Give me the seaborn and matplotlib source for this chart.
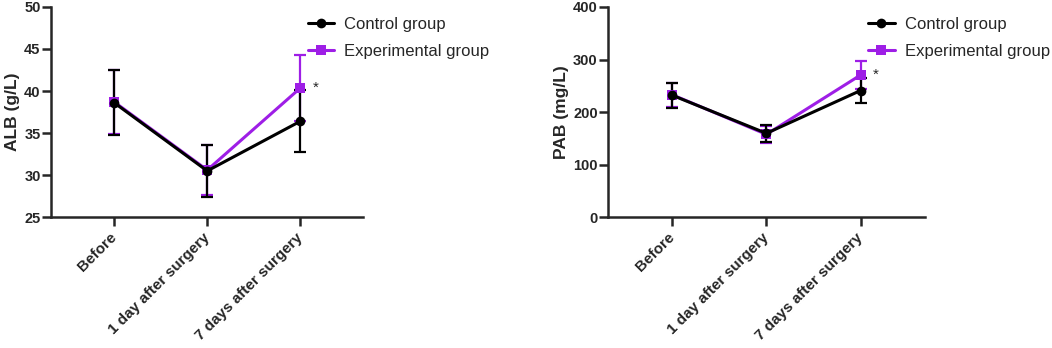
import matplotlib
matplotlib.use("Agg")
import matplotlib.pyplot as plt
import numpy as np
import pandas as pd
import seaborn as sns
from matplotlib.lines import Line2D

sns.set_style("ticks")
plt.rcParams["font.family"] = ["Liberation Sans", "DejaVu Sans"]

timepoints = ["Before", "1 day after surgery", "7 days after surgery"]
groups = ["Control group", "Experimental group"]
colors = {"Control group": "#000000", "Experimental group": "#9e1ee6"}
markers = {"Control group": "o", "Experimental group": "s"}

alb_ctrl = [38.6, 30.5, 36.4]
alb_ctrl_sd = [3.85, 3.05, 3.7]
alb_exp = [38.7, 30.6, 40.35]
alb_exp_sd = [3.8, 3.0, 3.95]

pab_ctrl = [232.0, 159.5, 241.0]
pab_ctrl_sd = [23.4, 16.5, 24.6]
pab_exp = [233.0, 157.5, 270.5]
pab_exp_sd = [23.0, 16.0, 26.5]


def mk_df(ctrl, ctrl_sd, exp, exp_sd):
    dic = {"time": [], "value": [], "sd": [], "group": []}
    for g, vals, sds in [("Control group", ctrl, ctrl_sd), ("Experimental group", exp, exp_sd)]:
        for t, v, s in zip(timepoints, vals, sds):
            dic["time"].append(t)
            dic["value"].append(v)
            dic["sd"].append(s)
            dic["group"].append(g)
    return pd.DataFrame(data=dic)


def draw_panel(ax, df, ylabel, ylim, yticks):
    # experimental first, control on top
    for g in ["Experimental group", "Control group"]:
        sub = df[df["group"] == g]
        xs = np.arange(len(sub))
        ax.errorbar(xs, sub["value"], yerr=sub["sd"], fmt="none",
                    ecolor=colors[g], elinewidth=1.6, capsize=4, capthick=1.6, zorder=2)
        sns.lineplot(data=sub, x="time", y="value", ax=ax, color=colors[g],
                     marker=markers[g], markersize=7, markeredgewidth=0,
                     linewidth=2.2, sort=False, zorder=3)
    ax.set_xlim(-0.68, 2.68)
    ax.set_ylim(*ylim)
    ax.set_yticks(yticks)
    ax.set_xlabel("")
    ax.set_ylabel(ylabel, fontsize=12.5, fontweight="bold", labelpad=3)
    ax.set_xticks(range(len(timepoints)))
    ax.set_xticklabels(timepoints, rotation=45, ha="right", va="center",
                       rotation_mode="anchor", fontsize=11, fontweight="bold")
    for lab in ax.get_yticklabels():
        lab.set_fontweight("bold")
        lab.set_fontsize(10.5)
    for sp in ["left", "bottom"]:
        ax.spines[sp].set_linewidth(1.8)
    sns.despine(ax=ax)
    ax.tick_params(axis="both", width=1.8, length=6.5, pad=1)
    ax.tick_params(axis="x", pad=6.5)
    handles = [Line2D([], [], color=colors[g], marker=markers[g], markersize=7,
                      markeredgewidth=0, linewidth=2.2) for g in groups]
    ax.legend(handles, groups, loc="upper left", bbox_to_anchor=(0.8, 0.985),
              frameon=False, fontsize=12, handlelength=1.6, handletextpad=0.6,
              labelspacing=0.72, borderaxespad=0)


fig = plt.figure(figsize=(10.52, 3.48), dpi=100)
ax1 = fig.add_axes([0.0485, 0.376, 0.297, 0.604])
ax2 = fig.add_axes([0.578, 0.376, 0.301, 0.604])

df_alb = mk_df(alb_ctrl, alb_ctrl_sd, alb_exp, alb_exp_sd)
df_pab = mk_df(pab_ctrl, pab_ctrl_sd, pab_exp, pab_exp_sd)

draw_panel(ax1, df_alb, "ALB (g/L)", (25, 50), [25, 30, 35, 40, 45, 50])
draw_panel(ax2, df_pab, "PAB (mg/L)", (0, 400), [0, 100, 200, 300, 400])

ax1.text(2.13, alb_exp[2], "*", fontsize=11, va="center", ha="left")
ax2.text(2.13, pab_exp[2], "*", fontsize=11, va="center", ha="left")

plt.savefig("out.png", dpi=100)
